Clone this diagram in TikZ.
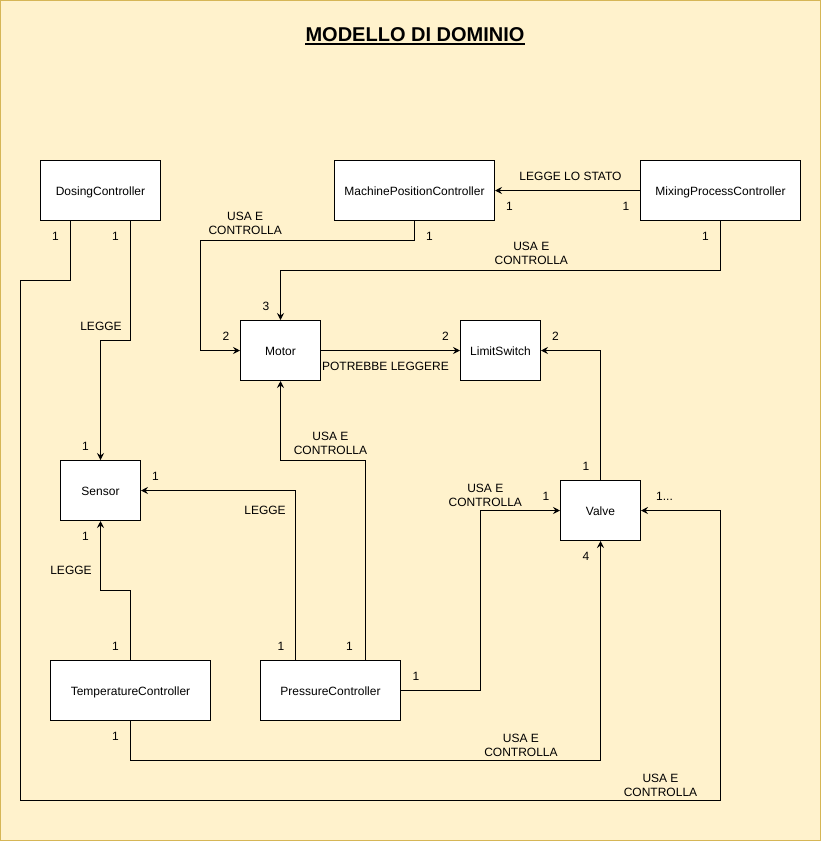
\documentclass[tikz,border=0pt]{standalone}
\usepackage{fontspec}
\setmainfont{Liberation Sans}
\usetikzlibrary{arrows.meta}
\definecolor{bgfill}{HTML}{FFF2CC}
\definecolor{bgline}{HTML}{D6B656}
\begin{document}
\begin{tikzpicture}[x=1pt,y=-1pt,
  box/.style={draw=black, fill=white, line width=1pt, minimum height=60pt, inner sep=0pt, text height=10pt, text depth=0pt, font=\fontsize{12}{14}\selectfont},
  conn/.style={draw=black, line width=1pt, -{Stealth[length=7pt,width=7pt,inset=2.5pt]}},
  lbl/.style={inner sep=0pt, align=center, font=\fontsize{12}{14}\selectfont}]
\useasboundingbox (0,0) rectangle (821,841);
\fill[bgfill] (0,0) rectangle (821,841);
\draw[bgline, line width=1pt] (0.5,0.5) rectangle (820.5,840.5);

\begin{scope}[shift={(0.5,0.5)}]
% title
\node[inner sep=0pt, font=\fontsize{20}{24}\selectfont\bfseries] (title) at (414.5,34) {MODELLO DI DOMINIO};
\draw[line width=2pt] ([yshift=-2.5pt]title.base west) -- ([yshift=-2.5pt]title.base east);

% classes
\node[box, minimum width=120pt] (dc)  at (100,190) {DosingController};
\node[box, minimum width=160pt] (mpc) at (414,190) {MachinePositionController};
\node[box, minimum width=160pt] (mix) at (720,190) {MixingProcessController};
\node[box, minimum width=80pt]  (mot) at (280,350) {Motor};
\node[box, minimum width=80pt]  (ls)  at (500,350) {LimitSwitch};
\node[box, minimum width=80pt]  (sen) at (100,490) {Sensor};
\node[box, minimum width=80pt]  (val) at (600,510) {Valve};
\node[box, minimum width=160pt] (tc)  at (130,690) {TemperatureController};
\node[box, minimum width=140pt] (pc)  at (330,690) {PressureController};

% routing corners
\coordinate (dv1) at (20,280);
\coordinate (dv2) at (720,800);

% connectors
\draw[conn] ([xshift=30pt]dc.south) |- (100,340) -- (sen.north);
\draw[conn] ([xshift=-30pt]dc.south) |- (dv1) |- (dv2) |- (val.east);
\draw[conn] (mpc.south) |- (200,240) |- (mot.west);
\draw[conn] (mix.west) -- (mpc.east);
\draw[conn] (mix.south) |- (280,270) -- (mot.north);
\draw[conn] (mot.east) -- (ls.west);
\draw[conn] (val.north) |- (ls.east);
\draw[conn] ([xshift=35pt]pc.north) |- (280,460) -- (mot.south);
\draw[conn] ([xshift=-35pt]pc.north) |- (sen.east);
\draw[conn] (pc.east) -| (480,510) -- (val.west);
\draw[conn] (tc.north) |- (100,590) -- (sen.south);
\draw[conn] (tc.south) |- (600,760) -- (val.south);

% labels
\node[lbl] (m1)  at (115,236) {1};
\node[lbl] (t1)  at (100.5,326) {LEGGE};
\node[lbl] (m2)  at (85,446) {1};
\node[lbl] (m3)  at (55,236) {1};
\node[lbl] (t2)  at (660,785) {USA E\\CONTROLLA};
\node[lbl] (m4)  at (664,496) {1...};
\node[lbl] (m5)  at (429,236) {1};
\node[lbl] (t3)  at (244.7,223) {USA E\\CONTROLLA};
\node[lbl] (m6)  at (225.5,336) {2};
\node[lbl] (t4)  at (570,175.5) {LEGGE LO STATO};
\node[lbl] (m7)  at (509,205.5) {1};
\node[lbl] (m8)  at (625.5,205.5) {1};
\node[lbl] (m9)  at (705,236) {1};
\node[lbl] (t5)  at (530.8,253.3) {USA E\\CONTROLLA};
\node[lbl] (m10) at (265.5,305.5) {3};
\node[lbl] (t6)  at (385,366) {POTREBBE LEGGERE};
\node[lbl] (m11) at (445,336) {2};
\node[lbl] (m12) at (585.5,465.5) {1};
\node[lbl] (m13) at (555,336) {2};
\node[lbl] (t7)  at (330,443) {USA E\\CONTROLLA};
\node[lbl] (m14) at (349,645.5) {1};
\node[lbl] (t8)  at (264.5,510.3) {LEGGE};
\node[lbl] (m15) at (155,475.5) {1};
\node[lbl] (m16) at (280.5,645.5) {1};
\node[lbl] (m17) at (415.5,675.5) {1};
\node[lbl] (t9)  at (484.8,495) {USA E\\CONTROLLA};
\node[lbl] (m18) at (545.5,496) {1};
\node[lbl] (t10) at (70.5,569.7) {LEGGE};
\node[lbl] (m19) at (85,535.5) {1};
\node[lbl] (m20) at (115,645.5) {1};
\node[lbl] (m21) at (115,735.5) {1};
\node[lbl] (t11) at (520.5,745) {USA E\\CONTROLLA};
\node[lbl] (m22) at (585.5,555.5) {4};
\end{scope}
\end{tikzpicture}
\end{document}
